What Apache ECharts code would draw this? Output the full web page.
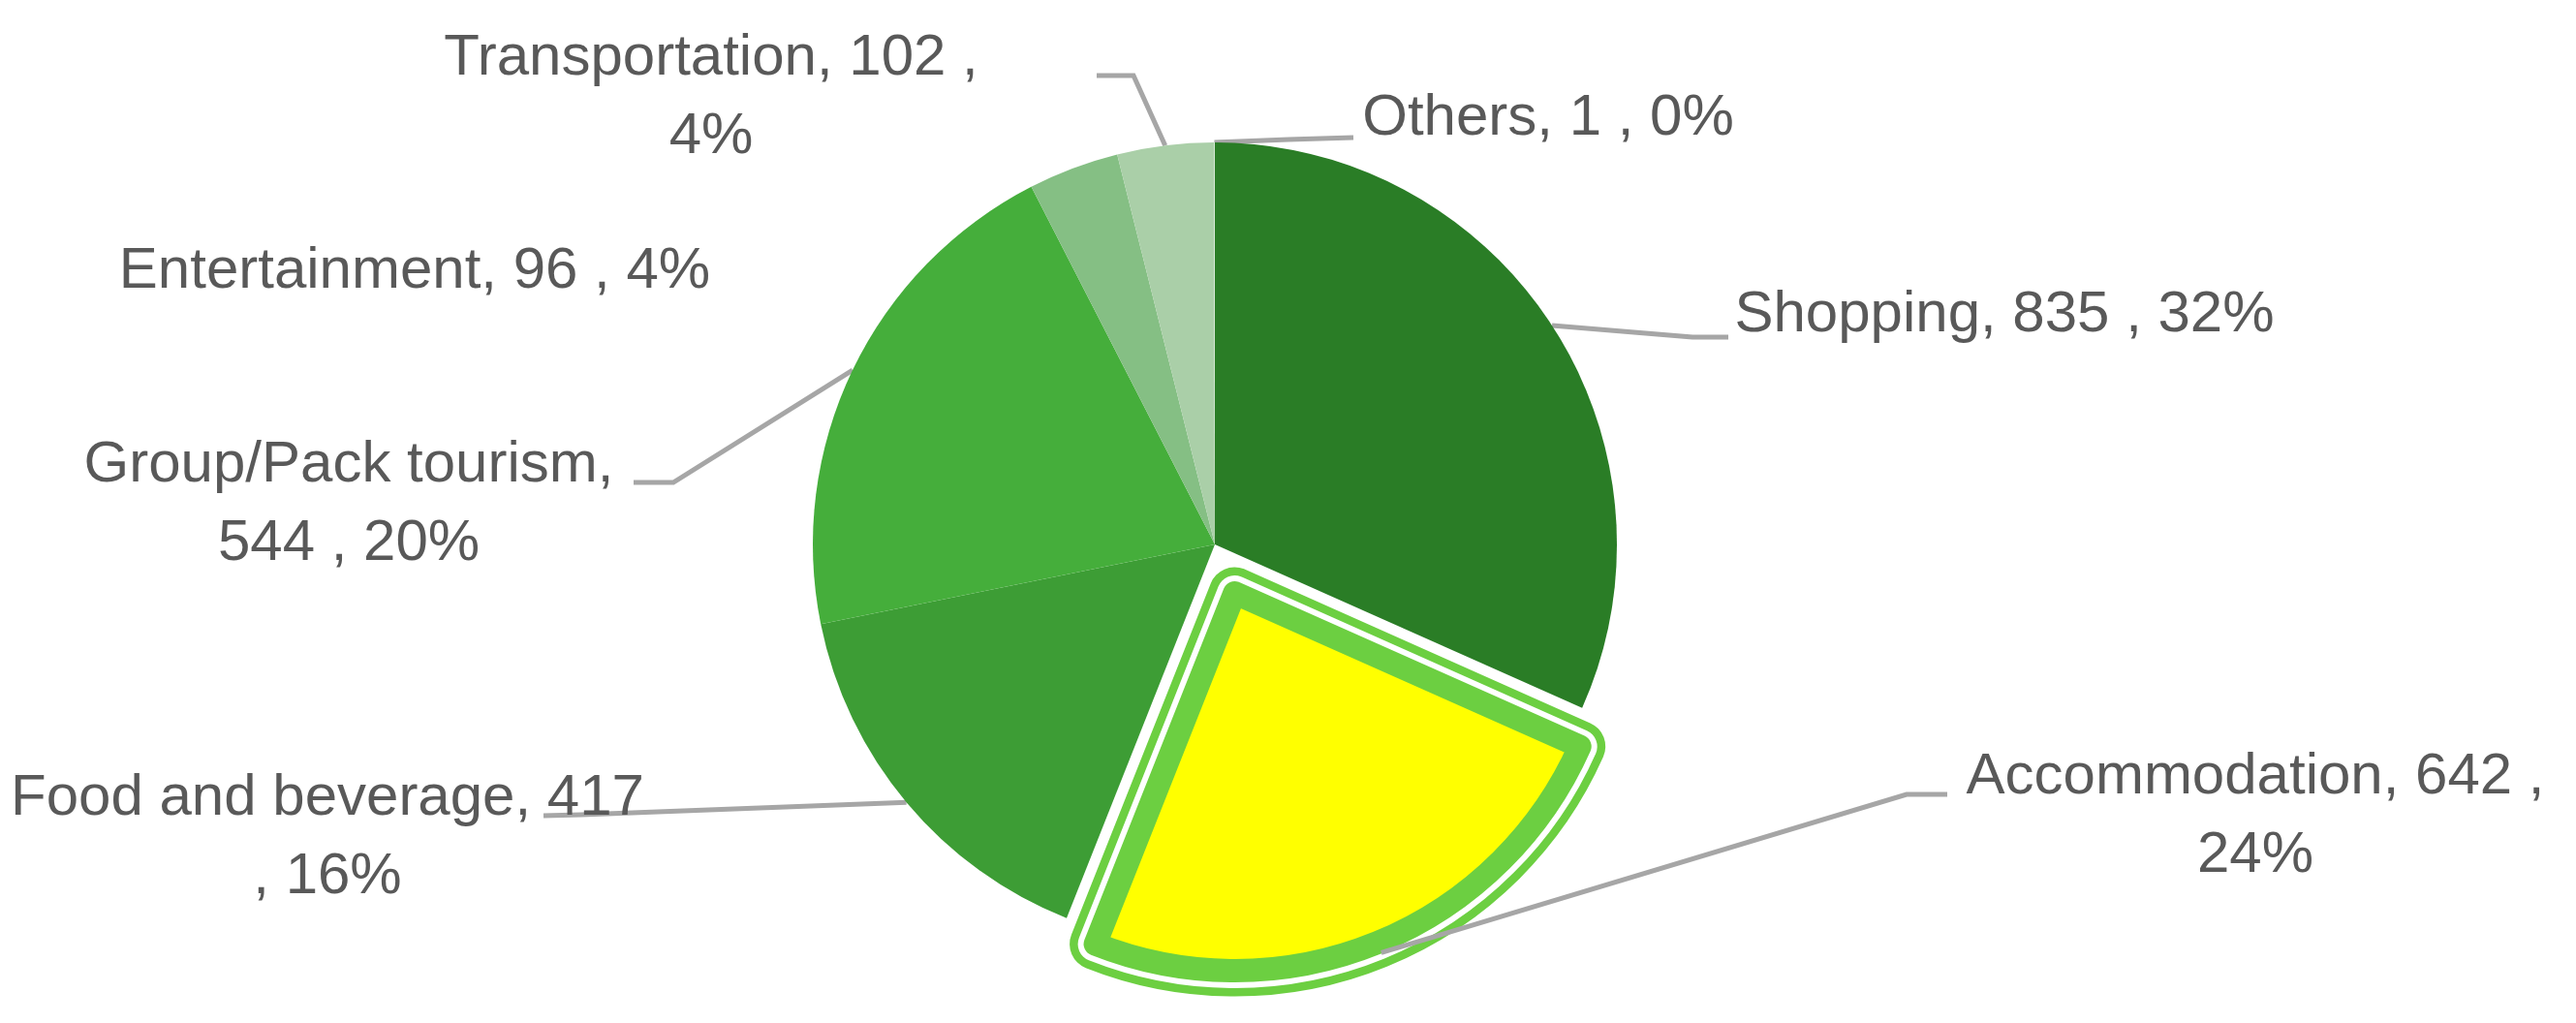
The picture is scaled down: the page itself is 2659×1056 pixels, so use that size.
<!DOCTYPE html>
<html>
<head>
<meta charset="utf-8">
<script src="https://cdn.jsdelivr.net/npm/echarts@6/dist/echarts.min.js"></script>
<style>
  html, body { margin: 0; padding: 0; background: #fff; }
  #chart { width: 2659px; height: 1056px; }
</style>
</head>
<body>
<div id="chart"></div>
<script>
// data
const categories = ['Shopping', 'Accommodation', 'Food and beverage', 'Group/Pack tourism', 'Entertainment', 'Transportation', 'Others'];
const values = [835, 642, 417, 544, 96, 102, 1];
const percents = ['32%', '24%', '16%', '20%', '4%', '4%', '0%'];
// where each label wraps: after the name, before ", pct", or before the pct
const labelBreaks = [null, 'pct', 'sep', 'name', null, 'pct', null];

const sliceColors = ['#2A7D26', '#FFFF00', '#3D9D35', '#45AE3B', '#85BF84', '#AACFA8', '#D3E8D2'];
const highlightGreen = '#6CCF41';
const picked = 1; // Accommodation, pulled out

// label block centres and leader-line bends (pixels)
const labelPos = [[2069, 325], [2328, 843], [338, 865], [360, 521], [428, 280], [734, 101], [1598, 122]];
const leaderBends = [
  [[1747, 348], [1784, 348]],
  [[1968, 820], [2010, 820]],
  [[600, 841], [561, 842]],
  [[695, 498], [654, 498]],
  null,
  [[1170, 78], [1132, 78]],
  [[1330, 144], [1397, 142]]
];

function labelText(i) {
  const name = categories[i], v = values[i], p = percents[i];
  switch (labelBreaks[i]) {
    case 'name': return name + ',\n' + v + ' , ' + p;
    case 'sep': return name + ', ' + v + '\n, ' + p;
    case 'pct': return name + ', ' + v + ' ,\n' + p;
    default: return name + ', ' + v + ' , ' + p;
  }
}

const center = [1254, 562];
const explode = 54;       // pull-out of the highlighted slice
const anchorShift = 40;   // its leader starts a bit further out

// the pulled-out slice is drawn as three stacked outlines (double border look)
function outlineLayer(fill, stroke, width, z) {
  return {
    type: 'pie',
    z: z,
    silent: true,
    center: center,
    radius: 390,
    startAngle: 90,
    selectedMode: 'single',
    selectedOffset: explode,
    animation: false,
    emphasis: { disabled: true },
    label: { show: false },
    labelLine: { show: false },
    data: categories.map((c, i) => ({
      name: c,
      value: values[i],
      selected: i === picked,
      itemStyle: i === picked
        ? { color: fill, borderColor: stroke, borderWidth: width, borderJoin: 'round' }
        : { color: 'transparent', borderWidth: 0 }
    }))
  };
}

const chart = echarts.init(document.getElementById('chart'));

const option = {
  animation: false,
  backgroundColor: '#fff',
  series: [
    outlineLayer(highlightGreen, highlightGreen, 53, 1),
    outlineLayer('#fff', '#fff', 36, 2),
    outlineLayer('#FFFF00', highlightGreen, 24, 3),
    {
      type: 'pie',
      z: 4,
      center: center,
      radius: 415,
      startAngle: 90,
      avoidLabelOverlap: false,
      emphasis: { disabled: true },
      itemStyle: { borderWidth: 0 },
      label: {
        show: true,
        position: 'outside',
        formatter: p => labelText(p.dataIndex),
        fontFamily: 'Liberation Sans',
        fontSize: 60,
        lineHeight: 81,
        color: '#595959',
        align: 'center'
      },
      labelLine: {
        show: true,
        length: 30,
        length2: 30,
        lineStyle: { color: '#A6A6A6', width: 5 }
      },
      labelLayout: function (p) {
        const i = p.dataIndex;
        const res = { x: labelPos[i][0], y: labelPos[i][1], align: 'center', verticalAlign: 'middle' };
        if (leaderBends[i] && p.labelLinePoints) {
          let a = p.labelLinePoints[0].slice();
          if (i === picked) {
            const dx = a[0] - center[0], dy = a[1] - center[1];
            const len = Math.sqrt(dx * dx + dy * dy);
            a = [a[0] + dx / len * anchorShift, a[1] + dy / len * anchorShift];
          }
          res.labelLinePoints = [a].concat(leaderBends[i]);
        }
        return res;
      },
      data: categories.map((c, i) => ({
        name: c,
        value: values[i],
        itemStyle: { color: i === picked ? 'transparent' : sliceColors[i] },
        labelLine: { show: leaderBends[i] !== null }
      }))
    }
  ]
};

chart.setOption(option);
</script>
</body>
</html>
